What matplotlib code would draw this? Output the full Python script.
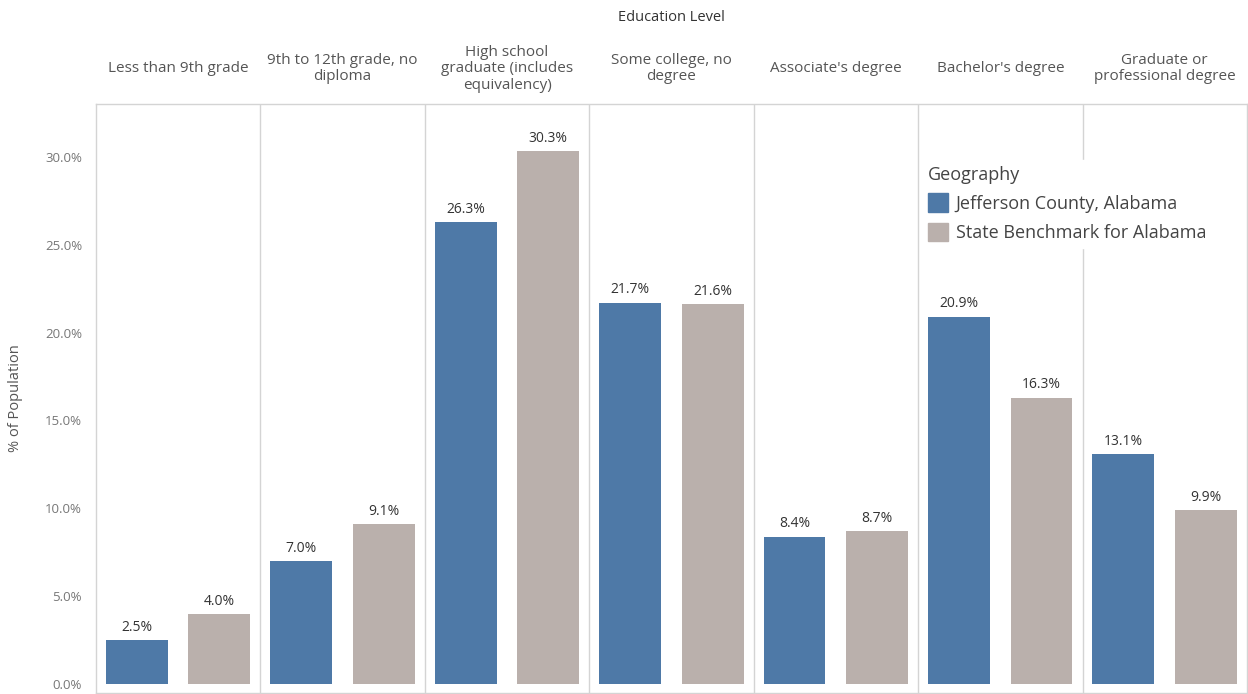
import matplotlib.pyplot as plt
from matplotlib.patches import Patch

# Data
levels = ["Less than 9th grade", "9th to 12th grade, no\ndiploma",
          "High school\ngraduate (includes\nequivalency)", "Some college, no\ndegree",
          "Associate's degree", "Bachelor's degree", "Graduate or\nprofessional degree"]
jefferson = [2.5, 7.0, 26.3, 21.7, 8.4, 20.9, 13.1]
state = [4.0, 9.1, 30.3, 21.6, 8.7, 16.3, 9.9]
series_names = ["Jefferson County, Alabama", "State Benchmark for Alabama"]
yticks = [0, 5, 10, 15, 20, 25, 30]

blue = "#4e79a7"
grey = "#bab0ac"
plt.rcParams['font.family'] = ['Open Sans', 'DejaVu Sans']

fig = plt.figure(figsize=(12.48, 6.94), dpi=100)
ax = fig.add_axes([96 / 1248, 1 / 694, 1 - 96 / 1248 - 1 / 1248, 1 - 105 / 694])

n = len(levels)
w = 0.376
for i in range(n):
    ax.bar(i + 0.248, jefferson[i], width=w, color=blue)
    ax.bar(i + 0.75, state[i], width=w, color=grey)
    ax.text(i + 0.248, jefferson[i] + 0.3, f"{jefferson[i]:.1f}%", ha="center", va="bottom",
            fontsize=10, color="#333333")
    ax.text(i + 0.75, state[i] + 0.3, f"{state[i]:.1f}%", ha="center", va="bottom",
            fontsize=10, color="#333333")
    if i > 0:
        ax.axvline(i, color="#d4d4d4", lw=1)
    # column header
    ax.text(i + 0.5, 1.06, levels[i], transform=ax.get_xaxis_transform(), ha="center",
            va="center", fontsize=11, color="#555555", linespacing=1.15)

ax.text(0.5 * n, 1.147, "Education Level", transform=ax.get_xaxis_transform(), ha="center",
        va="center", fontsize=10.5, color="#333333")

ax.set_xlim(0, n)
ax.set_ylim(-0.5, 33.0)
ax.set_xticks([])
ax.set_yticks(yticks)
ax.set_yticklabels([f"{t:.1f}%" for t in yticks], fontsize=9.5, color="#777777")
ax.tick_params(axis="y", length=0, pad=10)
for s in ax.spines.values():
    s.set_color("#d4d4d4")
    s.set_linewidth(1)
ax.set_ylabel("% of Population", fontsize=10.5, color="#555555", labelpad=16)

handles = [Patch(color=blue), Patch(color=grey)]
leg = ax.legend(handles, series_names, title="Geography", loc="upper left",
                bbox_to_anchor=(0.71, 0.92), frameon=True, fontsize=13, title_fontsize=13,
                handlelength=1.1, handleheight=1.2, handletextpad=0.45, labelspacing=0.55,
                borderpad=0.3, fancybox=False)
leg.get_frame().set_edgecolor("white")
leg.get_frame().set_facecolor("white")
leg.get_frame().set_alpha(1)
leg._legend_box.align = "left"
for t in leg.get_texts():
    t.set_color("#444444")
leg.get_title().set_color("#444444")

fig.savefig("out.png", dpi=100)
